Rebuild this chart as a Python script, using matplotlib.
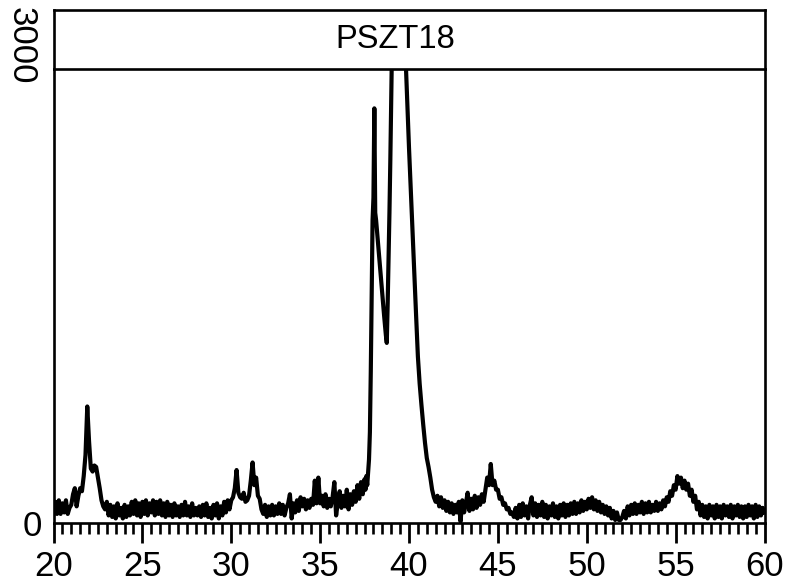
import numpy as np
import matplotlib
matplotlib.use("Agg")
import matplotlib.pyplot as plt
from matplotlib.ticker import MultipleLocator, FixedLocator
from matplotlib.transforms import ScaledTranslation

plt.rcParams['font.family'] = ['Liberation Sans', 'DejaVu Sans']

sample_name = "PSZT18"
x_major_ticks = [20, 25, 30, 35, 40, 45, 50, 55, 60]
y_ticks = [0, 3000]
y_tick_labels = ["0", "3000"]

# counts, 20.0 .. 37.4 deg in 0.1 deg steps
counts_low = (
    [60, 140, 60, 150, 60, 130, 70, 150, 60, 100] +         # 20
    [120, 190, 230, 110, 180, 230, 210, 310, 450, 770] +    # 21
    [540, 360, 340, 380, 370, 300, 230, 150, 110, 90] +     # 22
    [140, 50, 120, 40, 110, 30, 130, 50, 100, 30] +         # 23
    [120, 40, 110, 50, 140, 60, 150, 50, 130, 40] +         # 24
    [140, 60, 150, 50, 130, 70, 150, 50, 140, 60] +         # 25
    [150, 50, 130, 40, 140, 50, 120, 40, 130, 50] +         # 26
    [110, 40, 120, 50, 140, 50, 110, 40, 130, 50] +         # 27
    [100, 50, 110, 40, 120, 50, 130, 40, 100, 30] +         # 28
    [120, 50, 130, 30, 110, 50, 140, 70, 150, 90] +         # 29
    [150, 170, 230, 350, 200, 170, 160, 200, 140, 150] +    # 30
    [180, 280, 400, 250, 300, 180, 160, 90, 60, 120] +      # 31
    [40, 110, 50, 120, 50, 110, 60, 130, 60, 120] +         # 32
    [50, 100, 130, 190, 30, 130, 70, 150, 80, 170] +        # 33
    [110, 160, 90, 150, 100, 160, 120, 280, 130, 300] +     # 34
    [130, 180, 110, 190, 100, 160, 110, 170, 270, 50] +     # 35
    [140, 210, 100, 180, 110, 220, 90, 190, 120, 210] +     # 36
    [140, 250, 160, 270, 190]                               # 37.0-37.4
)
two_theta_low = np.round(20.0 + 0.1 * np.arange(len(counts_low)), 2)

# main reflection region, read at finer spacing
two_theta_peak = [37.5, 37.55, 37.6, 37.65, 37.7, 37.75, 37.8, 37.85, 37.9, 37.95,
                  38.0, 38.05, 38.1, 38.15, 38.2, 38.3, 38.4, 38.5, 38.6, 38.7,
                  38.75, 38.8, 38.85, 38.9, 38.95, 39.0, 39.1, 39.2, 39.4, 39.6,
                  39.7, 39.8, 39.9, 40.0, 40.1, 40.2, 40.3, 40.4, 40.5, 40.6,
                  40.7, 40.8, 40.9, 41.0, 41.1, 41.2, 41.3, 41.4]
counts_peak = [290, 220, 310, 250, 340, 420, 600, 1000, 1500, 2000,
               2150, 2740, 2050, 2000, 1930, 1790, 1650, 1510, 1370, 1240,
               1190, 1450, 1750, 2050, 2400, 2800, 3600, 4300, 4800, 4300,
               3500, 3100, 2780, 2480, 2200, 1920, 1640, 1370, 1100, 920,
               780, 650, 530, 430, 370, 300, 220, 170]

# counts, 41.5 .. 60.0 deg in 0.1 deg steps
counts_high = (
    [140, 180, 110, 170, 100] +                             # 41.5-41.9
    [150, 80, 140, 70, 130, 60, 120, 70, 140, 10] +         # 42
    [150, 70, 130, 200, 80, 160, 90, 180, 100, 170] +       # 43
    [120, 190, 140, 220, 300, 250, 390, 250, 280, 220] +    # 44
    [220, 160, 170, 120, 130, 90, 100, 60, 70, 40] +        # 45
    [100, 30, 120, 40, 130, 50, 110, 30, 120, 170] +        # 46
    [50, 130, 40, 120, 50, 140, 40, 120, 30, 110] +         # 47
    [50, 130, 40, 110, 30, 120, 50, 130, 40, 120] +         # 48
    [50, 130, 60, 140, 60, 130, 70, 150, 80, 140] +         # 49
    [90, 160, 100, 170, 90, 150, 80, 140, 70, 120] +        # 50
    [60, 110, 50, 100, 30, 80, 20, 70, 20, 20] +            # 51
    [40, 80, 30, 110, 50, 120, 60, 130, 60, 120] +          # 52
    [70, 140, 60, 130, 70, 140, 70, 120, 80, 140] +         # 53
    [80, 130, 90, 150, 110, 170, 140, 210, 180, 250] +      # 54
    [220, 310, 260, 300, 230, 280, 220, 260, 180, 220] +    # 55
    [140, 180, 90, 140, 50, 120, 40, 110, 30, 120] +        # 56
    [50, 110, 30, 120, 40, 110, 30, 120, 50, 110] +         # 57
    [40, 120, 30, 110, 50, 120, 40, 110, 30, 110] +         # 58
    [40, 120, 50, 110, 30, 120, 40, 110, 50, 100] +         # 59
    [70]                                                    # 60.0
)
two_theta_high = np.round(41.5 + 0.1 * np.arange(len(counts_high)), 2)

two_theta = np.concatenate([two_theta_low, two_theta_peak, two_theta_high])
counts = np.concatenate([counts_low, counts_peak, counts_high])

W, H = 786, 587
fig = plt.figure(figsize=(W / 100, H / 100), dpi=100)
x0, x1 = 53.5, 764.5
y_axis, y_top, y_box = 523, 69, 10
ax = fig.add_axes([x0 / W, (H - y_axis) / H, (x1 - x0) / W, (y_axis - y_top) / H])
tax = fig.add_axes([x0 / W, (H - y_top) / H, (x1 - x0) / W, (y_top - y_box) / H])

ax.plot(two_theta, counts, color='black', lw=3.0, solid_joinstyle='round')
ax.set_xlim(20, 60)
ax.set_ylim(0, 3000)

for s in ax.spines.values():
    s.set_linewidth(1.9)
ax.spines['top'].set_visible(False)

ax.xaxis.set_major_locator(FixedLocator(x_major_ticks))
ax.xaxis.set_minor_locator(MultipleLocator(0.5))
ax.tick_params(axis='x', which='major', direction='out', length=14.5, width=2.0,
               labelsize=25, pad=5)
ax.tick_params(axis='x', which='minor', direction='out', length=8, width=1.9)
ax.set_yticks(y_ticks)
ax.set_yticklabels(y_tick_labels)
ax.tick_params(axis='y', which='both', length=0, labelsize=25, pad=8)
labs = ax.get_yticklabels()
labs[1].set_rotation(270)
labs[1].set_va('center')
labs[1].set_transform(labs[1].get_transform() + ScaledTranslation(-0.05, 0.23, fig.dpi_scale_trans))

tax.set_xticks([])
tax.set_yticks([])
for s in tax.spines.values():
    s.set_linewidth(1.9)
tax.text(0.481, 0.5, sample_name, transform=tax.transAxes, ha='center', va='center',
         fontsize=23.5)

fig.savefig("out.png", dpi=100)
